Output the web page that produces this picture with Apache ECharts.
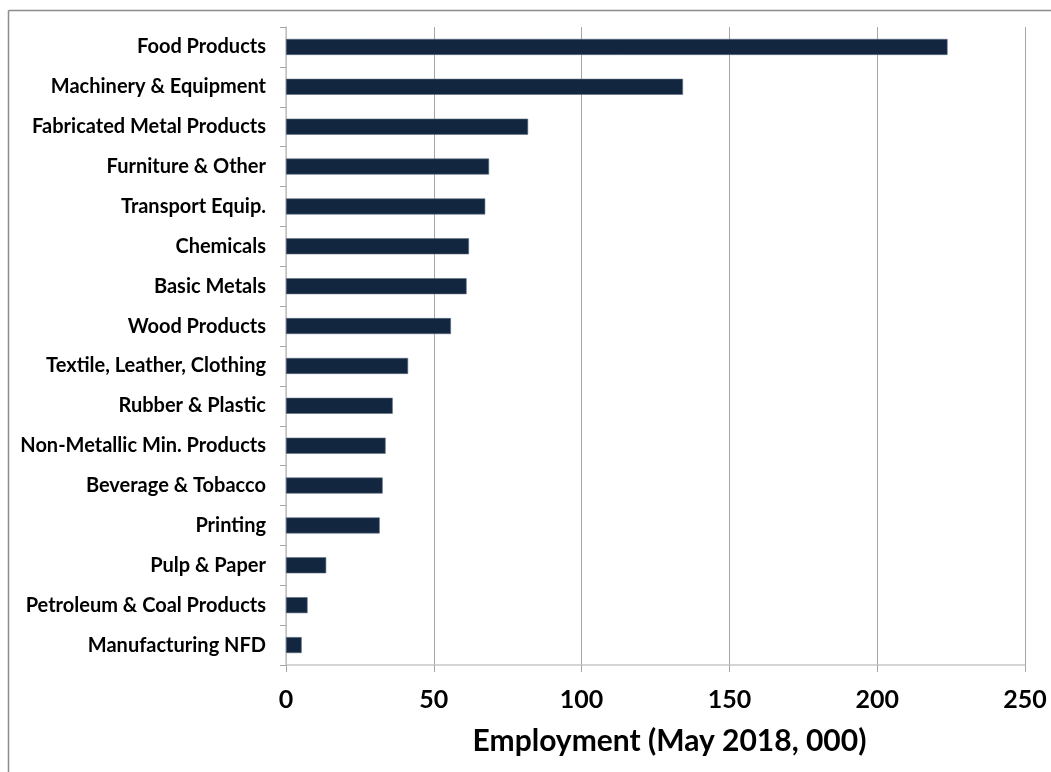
<!DOCTYPE html>
<html>
<head>
<meta charset="utf-8">
<script src="https://cdn.jsdelivr.net/npm/echarts@6/dist/echarts.min.js"></script>
<style>
  html, body { margin: 0; padding: 0; background: #fff; }
  #chart { width: 1051px; height: 772px; }
</style>
</head>
<body>
<div id="chart"></div>
<script>
const categories = [
  "Food Products", "Machinery & Equipment", "Fabricated Metal Products",
  "Furniture & Other", "Transport Equip.", "Chemicals", "Basic Metals",
  "Wood Products", "Textile, Leather, Clothing", "Rubber & Plastic",
  "Non-Metallic Min. Products", "Beverage & Tobacco", "Printing",
  "Pulp & Paper", "Petroleum & Coal Products", "Manufacturing NFD"
];
const employment = [223.8, 134.3, 81.9, 68.7, 67.4, 61.9, 61.1, 55.8, 41.3, 36.1, 33.7, 32.7, 31.7, 13.6, 7.3, 5.3];
const xTicks = { min: 0, max: 250, interval: 50 };
const axisTitle = "Employment (May 2018, 000)";

const chart = echarts.init(document.getElementById('chart'), null, { renderer: 'canvas' });
const font = 'Lato, "Open Sans", "Noto Sans", sans-serif';
chart.setOption({
  animation: false,
  backgroundColor: '#ffffff',
  textStyle: { fontFamily: font },
  graphic: [
    { type: 'line', shape: { x1: 8.5, y1: 10.5, x2: 1051, y2: 10.5 }, style: { stroke: '#8c8c8c', lineWidth: 1.5 } },
    { type: 'line', shape: { x1: 8.5, y1: 10.5, x2: 8.5, y2: 772 }, style: { stroke: '#8c8c8c', lineWidth: 1.5 } }
  ],
  grid: { left: 286, right: 26, top: 27, bottom: 107, containLabel: false },
  xAxis: {
    type: 'value',
    min: xTicks.min, max: xTicks.max, interval: xTicks.interval,
    name: axisTitle,
    nameLocation: 'middle',
    nameGap: 61,
    nameTextStyle: { fontFamily: font, fontWeight: 'bold', fontSize: 30, color: '#000', padding: [0, 0, 0, 28] },
    axisLine: { show: true, lineStyle: { color: '#c8c8c8', width: 1.5 } },
    axisTick: { show: true, length: 7, lineStyle: { color: '#a6a6a6' } },
    axisLabel: { fontFamily: font, fontWeight: 'bold', fontSize: 25, color: '#000', margin: 22 },
    splitLine: { show: true, lineStyle: { color: '#a6a6a6', width: 1 } }
  },
  yAxis: {
    type: 'category',
    data: categories,
    inverse: true,
    axisLine: { show: true, lineStyle: { color: '#c8c8c8', width: 1.5 } },
    axisTick: { show: true, length: 6, alignWithLabel: false, lineStyle: { color: '#a6a6a6' } },
    axisLabel: { fontFamily: font, fontWeight: 'bold', fontSize: 20, color: '#000', margin: 20 },
    splitLine: { show: false }
  },
  series: [{
    type: 'bar',
    data: employment,
    barWidth: 16,
    itemStyle: { color: '#12263f', borderColor: '#5b6b80', borderWidth: 0.6 }
  }]
});
</script>
</body>
</html>
